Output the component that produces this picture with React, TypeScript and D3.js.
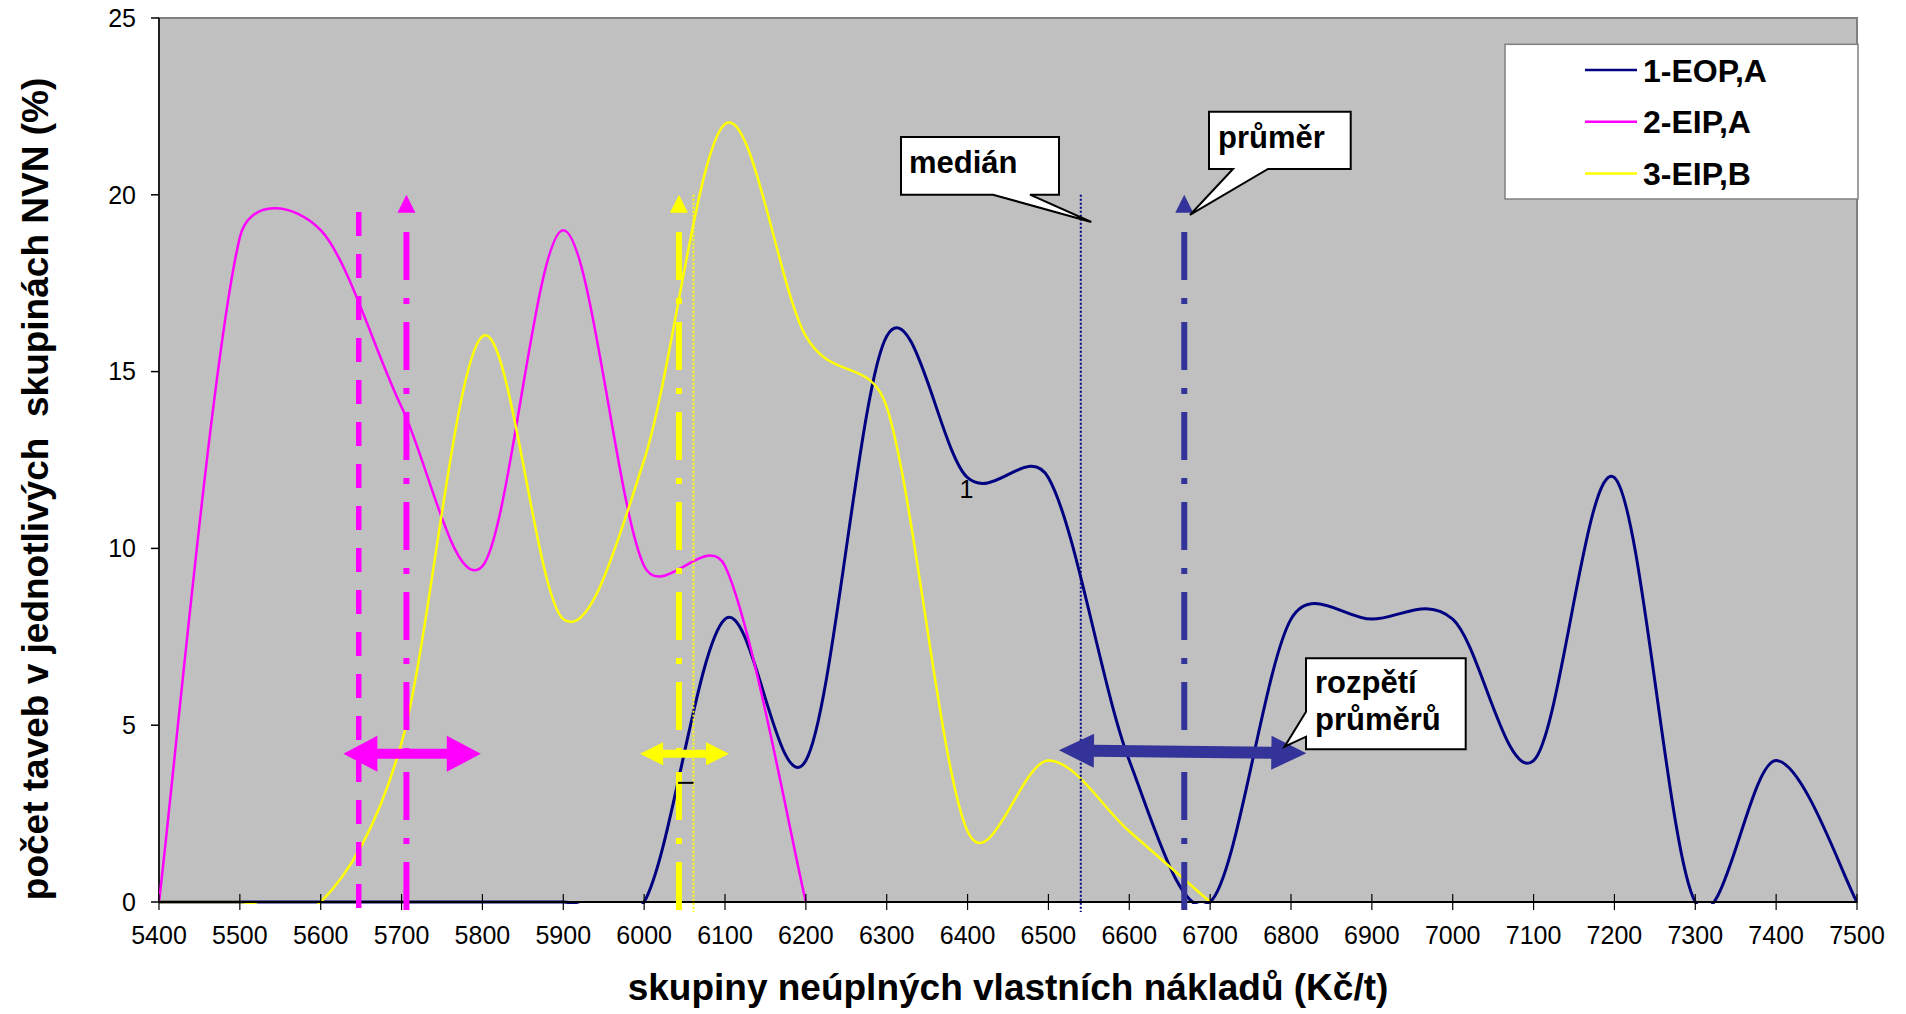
import React from "react"
import * as d3 from "d3"

// x categories (Kč/t groups)
const groups = [5400, 5500, 5600, 5700, 5800, 5900, 6000, 6100, 6200, 6300, 6400, 6500, 6600, 6700, 6800, 6900, 7000, 7100, 7200, 7300, 7400, 7500]
const yTicks = [0, 5, 10, 15, 20, 25]

// share of heats in each group (%)
const eopA = [0, 0, 0, 0, 0, 0, 0, 8, 4, 16, 12, 12, 4, 0, 8, 8, 8, 4, 12, 0, 4, 0]
const eipA = [0, 18.8, 19, 14, 9.5, 19, 9.5, 9.5, 0, null, null, null, null, null, null, null, null, null, null, null, null, null]
const eipB = [0, 0, 0, 4.5, 16, 8, 12.5, 22, 16, 14, 2, 4, 2, 0, null, null, null, null, null, null, null, null]

const seriesNames = ["1-EOP,A", "2-EIP,A", "3-EIP,B"]
const seriesColors = ["#000080", "#FF00FF", "#FFFF00"]

// averages (dash-dot with arrow), medians, ranges of averages
const meanValues = [6668, 5706, 6043]
const meanColors = ["#333399", "#FF00FF", "#FFFF00"]
const medianValues = [6540, 5647, 6061]
const rangeFrom = [6513, 5628, 5995]
const rangeTo = [6819, 5798, 6105]
const rangeYFrom = [4.29, 4.19, 4.19]
const rangeYTo = [4.21, 4.19, 4.19]

const W = 1906
const H = 1014
const FONT = "'Liberation Sans', Arial, Helvetica, sans-serif"

type Pt = [number, number]

// smoothed line like the spreadsheet does it: bezier handles from neighbours,
// shortened where the next segment is short
function smoothPath(pts: (Pt | null)[]) {
  const p = d3.path()
  const runs: Pt[][] = []
  let cur: Pt[] = []
  pts.forEach((q) => {
    if (q) cur.push(q)
    else if (cur.length) {
      runs.push(cur)
      cur = []
    }
  })
  if (cur.length) runs.push(cur)

  runs.forEach((r) => {
    const n = r.length
    if (n < 2) return
    const T = r.map((_, i) => {
      const a = r[Math.max(0, i - 1)]
      const b = r[Math.min(n - 1, i + 1)]
      return [(b[0] - a[0]) / 6, (b[1] - a[1]) / 6] as Pt
    })
    const clamp = (t: Pt, lim: number): Pt => {
      const l = Math.hypot(t[0], t[1])
      const k = l > lim ? lim / l : 1
      return [t[0] * k, t[1] * k]
    }
    p.moveTo(r[0][0], r[0][1])
    for (let i = 0; i < n - 1; i++) {
      const a = r[i]
      const b = r[i + 1]
      const d = Math.hypot(b[0] - a[0], b[1] - a[1]) / 2
      const o = clamp(T[i], d)
      const inn = clamp(T[i + 1], d)
      p.bezierCurveTo(a[0] + o[0], a[1] + o[1], b[0] - inn[0], b[1] - inn[1], b[0], b[1])
    }
  })
  return p.toString()
}

export default function App() {
  const x = d3.scaleLinear().domain([5400, 7500]).range([159, 1857])
  const y = d3.scaleLinear().domain([0, 25]).range([902, 18])

  const table = [eopA, eipA, eipB].map((vals, i) => ({
    name: seriesNames[i],
    color: seriesColors[i],
    points: groups.map((g, j) => (vals[j] == null ? null : ([x(g), y(vals[j] as number)] as Pt))),
  }))

  const doubleArrow = (x1: number, y1: number, x2: number, y2: number, head: number, half: number, shaft: number) => {
    const len = Math.hypot(x2 - x1, y2 - y1)
    const ux = (x2 - x1) / len
    const uy = (y2 - y1) / len
    const nx = -uy
    const ny = ux
    const p = (a: number, b: number) => [x1 + ux * a + nx * b, y1 + uy * a + ny * b].join(",")
    const s = shaft / 2
    return (
      "M" +
      [
        p(0, 0),
        p(head, -half),
        p(head, -s),
        p(len - head, -s),
        p(len - head, -half),
        p(len, 0),
        p(len - head, half),
        p(len - head, s),
        p(head, s),
        p(head, half),
      ].join("L") +
      "Z"
    )
  }

  const arrowSizes = [
    { head: 35, half: 17, shaft: 12 },
    { head: 34, half: 18, shaft: 10 },
    { head: 23, half: 11.5, shaft: 8 },
  ]

  // medián callout
  const mTip = [x(6553), y(19.23)]
  const medPath = `M901,137H1059V194.7H1030L${mTip[0]},${mTip[1]}L993,194.7H901Z`
  // průměr callout
  const pTip = [x(6675), y(19.43)]
  const prPath = `M1209,111.7H1350.7V169H1268L${pTip[0]},${pTip[1]}L1233,169H1209Z`
  // rozpětí callout
  const rTip = [x(6792), y(4.39)]
  const roPath = `M1306,658.3H1465.7V749.3H1306V736.7L${rTip[0]},${rTip[1]}L1306,711.7Z`

  return (
    <svg width={W} height={H} style={{ position: "absolute", left: 0, top: 0, background: "#fff" }} fontFamily={FONT}>
      <defs>
        <clipPath id="plot">
          <rect x={159} y={18} width={1698} height={886} />
        </clipPath>
      </defs>

      {/* plot area */}
      <rect x={159} y={18} width={1698} height={884} fill="#C0C0C0" stroke="#808080" strokeWidth={2} />

      {/* y axis */}
      <line x1={159} x2={159} y1={18} y2={902} stroke="#000" strokeWidth={1.5} />
      {yTicks.map((t) => (
        <g key={t}>
          <line x1={151} x2={159} y1={y(t)} y2={y(t)} stroke="#000" strokeWidth={1.5} />
          <text x={136} y={y(t)} dy="0.35em" textAnchor="end" fontSize={25}>
            {t}
          </text>
        </g>
      ))}

      {/* series */}
      <g clipPath="url(#plot)">
        {table.map((s, i) => (
          <path key={s.name} d={smoothPath(s.points)} fill="none" stroke={s.color} strokeWidth={i === 0 ? 3 : 2.5} />
        ))}
      </g>

      {/* x axis */}
      <line x1={159} x2={1857} y1={902} y2={902} stroke="#000" strokeWidth={2} />
      {groups.map((g) => (
        <g key={g}>
          <line x1={x(g)} x2={x(g)} y1={894} y2={910} stroke="#000" strokeWidth={1.2} />
          <text x={x(g)} y={944} textAnchor="middle" fontSize={25}>
            {g}
          </text>
        </g>
      ))}

      {/* medians */}
      <line
        x1={x(medianValues[1])}
        x2={x(medianValues[1])}
        y1={y(20)}
        y2={911}
        stroke={meanColors[1]}
        strokeWidth={5.5}
        strokeDasharray="24 18"
        strokeDashoffset={24.7}
      />
      <line x1={x(medianValues[2])} x2={x(medianValues[2])} y1={y(20)} y2={912} stroke={meanColors[2]} strokeWidth={2} strokeDasharray="2 2" />
      <line x1={x(medianValues[0])} x2={x(medianValues[0])} y1={y(20)} y2={912} stroke="#000080" strokeWidth={2} strokeDasharray="2 2" />

      {/* averages */}
      {meanValues.map((m, i) => (
        <g key={i}>
          <line x1={x(m)} x2={x(m)} y1={232} y2={912} stroke={meanColors[i]} strokeWidth={6} strokeDasharray="48 18 6 18" />
          <path d={`M${x(m)},${y(20)}L${x(m) + 9},${y(20) + 18}L${x(m) - 9},${y(20) + 18}Z`} fill={meanColors[i]} />
        </g>
      ))}

      {/* ranges of averages */}
      {rangeFrom.map((r, i) => (
        <path
          key={i}
          d={doubleArrow(x(r), y(rangeYFrom[i]), x(rangeTo[i]), y(rangeYTo[i]), arrowSizes[i].head, arrowSizes[i].half, arrowSizes[i].shaft)}
          fill={meanColors[i]}
        />
      ))}

      {/* stray marks */}
      <text x={x(6390)} y={y(11.43)} fontSize={25}>
        1
      </text>
      <line x1={x(6042)} x2={x(6061)} y1={y(3.37)} y2={y(3.37)} stroke="#000" strokeWidth={2} />

      {/* callouts */}
      <path d={medPath} fill="#fff" stroke="#000" strokeWidth={2} />
      <text x={909} y={172.7} fontSize={31} fontWeight="bold">
        medián
      </text>
      <path d={prPath} fill="#fff" stroke="#000" strokeWidth={2} />
      <text x={1218} y={148.3} fontSize={31} fontWeight="bold">
        průměr
      </text>
      <path d={roPath} fill="#fff" stroke="#000" strokeWidth={2} />
      <text x={1315} y={693.3} fontSize={31} fontWeight="bold">
        rozpětí
      </text>
      <text x={1315} y={730} fontSize={31} fontWeight="bold">
        průměrů
      </text>

      {/* legend */}
      <rect x={1505} y={44.3} width={353} height={154.7} fill="#fff" stroke="#808080" strokeWidth={1.5} />
      {seriesNames.map((n, i) => (
        <g key={n}>
          <line x1={1585} x2={1637} y1={70 + i * 51.7} y2={70 + i * 51.7} stroke={seriesColors[i]} strokeWidth={2.5} />
          <text x={1643} y={81.7 + i * 51.7} fontSize={32} fontWeight="bold">
            {n}
          </text>
        </g>
      ))}

      {/* axis titles */}
      <text x={1008} y={1000} textAnchor="middle" fontSize={37} fontWeight="bold">
        skupiny neúplných vlastních nákladů (Kč/t)
      </text>
      <text transform="translate(48,489) rotate(-90)" textAnchor="middle" fontSize={37} fontWeight="bold" style={{ whiteSpace: "pre" }}>
        {"počet taveb v jednotlivých  skupinách NVN (%)"}
      </text>
    </svg>
  )
}
